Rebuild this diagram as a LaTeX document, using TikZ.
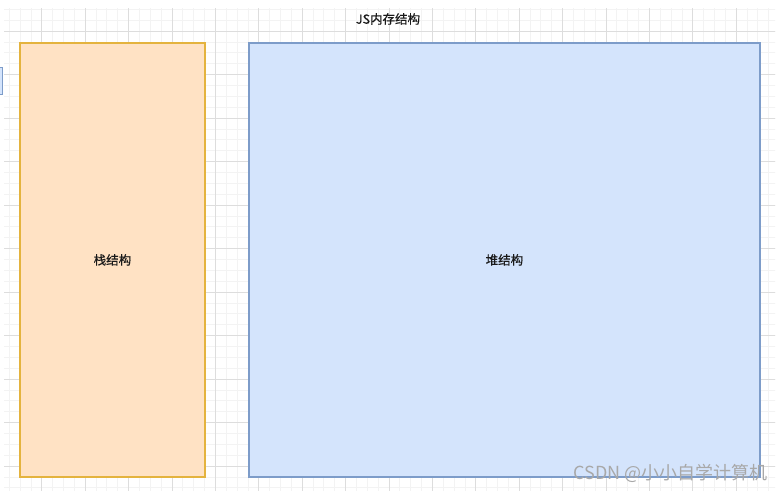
\documentclass[tikz,border=0pt]{standalone}
\usepackage{fontspec}
\setmainfont{Noto Sans CJK SC}
\newfontfamily\lblfont[FakeBold=0.5]{Noto Sans CJK SC}
\definecolor{orfill}{HTML}{FFE2C4}
\definecolor{ordraw}{HTML}{E4B33E}
\definecolor{blfill}{HTML}{D4E4FC}
\definecolor{bldraw}{HTML}{7D9CC9}
\definecolor{gridminor}{HTML}{F3F3F3}
\definecolor{gridmajor}{HTML}{DDDDDD}
\definecolor{wmark}{HTML}{A8A8A8}
\tikzset{
  memboxo/.style={draw=ordraw, fill=orfill, line width=1.9pt, inner sep=0pt},
  memboxb/.style={draw=bldraw, fill=blfill, line width=1.9pt, inner sep=0pt},
  lbl/.style={font=\lblfont\fontsize{12.5}{14}\selectfont, text=black!90},
}
\begin{document}
\begin{tikzpicture}[x=1pt,y=-1pt]
\useasboundingbox (0,0) rectangle (782,491);
\fill[white] (0,0) rectangle (782,491);
% grid
\begin{scope}
\clip (4,8) rectangle (775,491);
\foreach \i in {-4,...,72} {
  \draw[gridminor, line width=0.7pt] ({41.7+\i*10.85},0) -- ({41.7+\i*10.85},491);
}
\foreach \i in {-3,...,46} {
  \draw[gridminor, line width=0.7pt] (0,{31+\i*10.875}) -- (782,{31+\i*10.875});
}
\foreach \i in {-1,...,18} {
  \draw[gridmajor, line width=0.7pt] ({41.7+\i*43.4},0) -- ({41.7+\i*43.4},491);
}
\foreach \i in {-1,...,11} {
  \draw[gridmajor, line width=0.7pt] (0,{31+\i*43.5}) -- (782,{31+\i*43.5});
}
\end{scope}
% left sliver
\draw[draw=bldraw, fill=blfill, line width=1pt] (-2,67) rectangle (2.2,94);
% boxes
\node[memboxo, minimum width=185pt, minimum height=434pt, anchor=north west] (stack) at (19,42) {};
\node[memboxb, minimum width=511pt, minimum height=434pt, anchor=north west] (heap) at (248,42) {};
\node[lbl] (stacklbl) at (stack.center) {栈结构};
\node[lbl] (heaplbl) at (heap.center) {堆结构};
\node[lbl] (title) at (388,19) {JS内存结构};
% watermark
\node[font=\fontsize{18}{20}\selectfont, text=wmark, anchor=east] (wm) at (771,473) {CSDN @小小自学计算机};
\end{tikzpicture}
\end{document}
